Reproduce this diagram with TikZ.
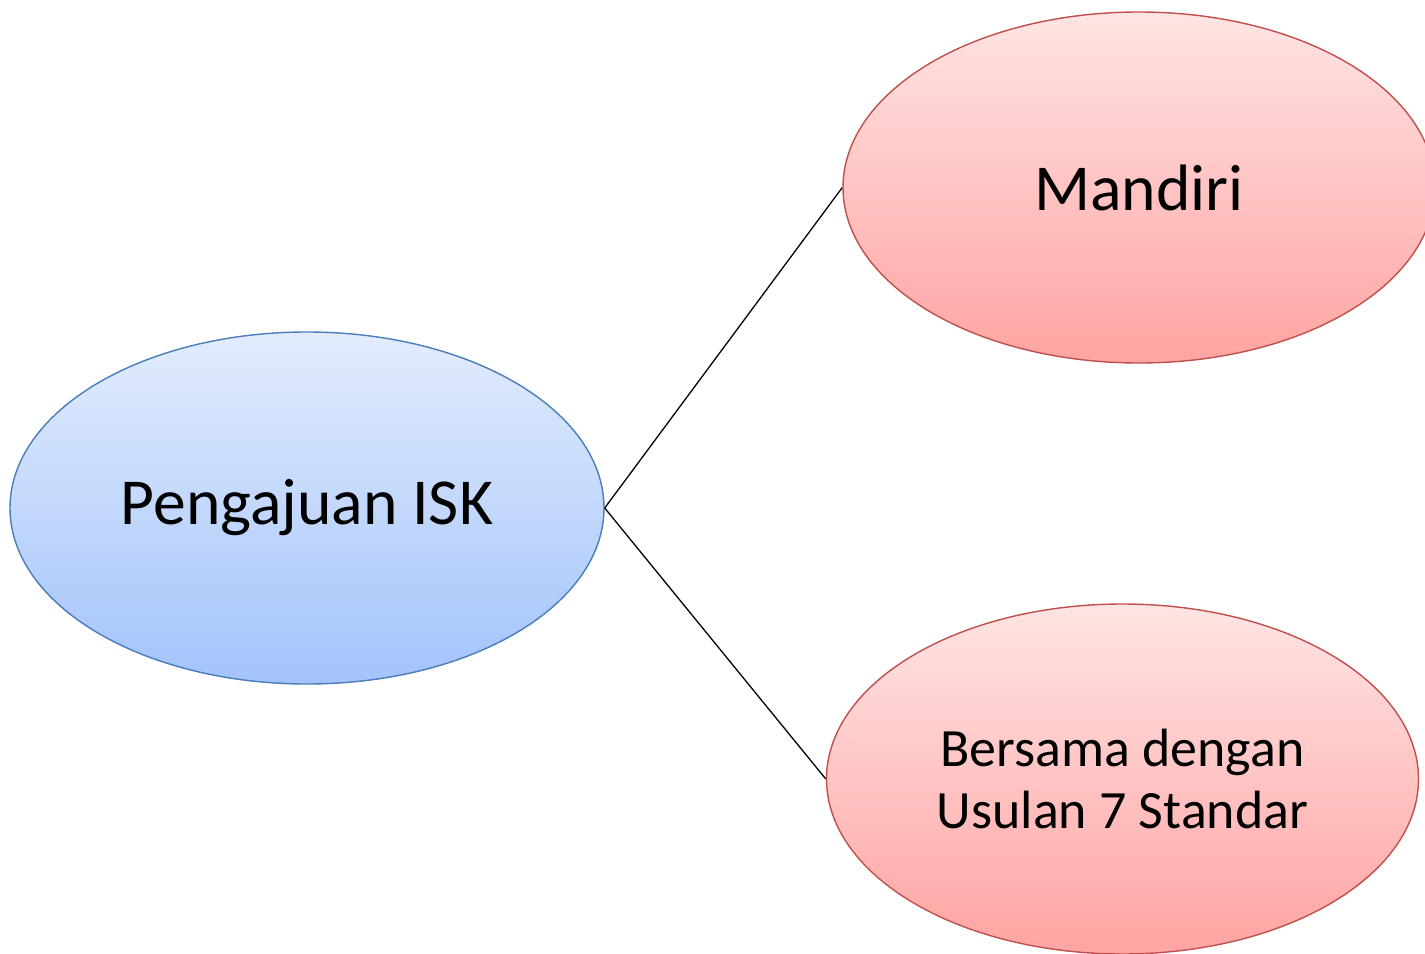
\documentclass[tikz,border=0pt]{standalone}
\usepackage{fontspec}
\setmainfont{Carlito}
\usetikzlibrary{shapes.geometric}
\definecolor{bluetop}{HTML}{E2ECFC}
\definecolor{bluebot}{HTML}{A3C3FB}
\definecolor{blueline}{HTML}{4A7EBB}
\definecolor{redtop}{HTML}{FFE4E4}
\definecolor{redbot}{HTML}{FFA4A2}
\definecolor{redline}{HTML}{C0504D}
\begin{document}
\begin{tikzpicture}[x=0.03cm,y=-0.03cm,
  blueell/.style={ellipse,draw=blueline,line width=1.2pt,top color=bluetop,bottom color=bluebot,inner sep=0pt},
  redell/.style={ellipse,draw=redline,line width=1.2pt,top color=redtop,bottom color=redbot,inner sep=0pt},
  conn/.style={draw=black,line width=1.1pt}]
\useasboundingbox (0,0) rectangle (1425,954);
\begin{scope}
\clip (0,0) rectangle (1425,954);
\node[blueell,minimum width=594*0.03cm,minimum height=352*0.03cm] (isk) at (307,508) {};
\node[redell,minimum width=592*0.03cm,minimum height=351*0.03cm] (mandiri) at (1139,187.5) {};
\node[redell,minimum width=592*0.03cm,minimum height=350*0.03cm] (bersama) at (1122.5,779) {};
\end{scope}
\node[font=\fontsize{56}{62}\selectfont] at (isk.center) {Pengajuan ISK};
\node[font=\fontsize{56}{62}\selectfont] at (mandiri.center) {Mandiri};
\node[font=\fontsize{46}{53}\selectfont,align=center] at (bersama.center) {Bersama dengan\\Usulan 7 Standar};
\draw[conn] (isk.east) -- (mandiri.west);
\draw[conn] (isk.east) -- (bersama.west);
\end{tikzpicture}
\end{document}
